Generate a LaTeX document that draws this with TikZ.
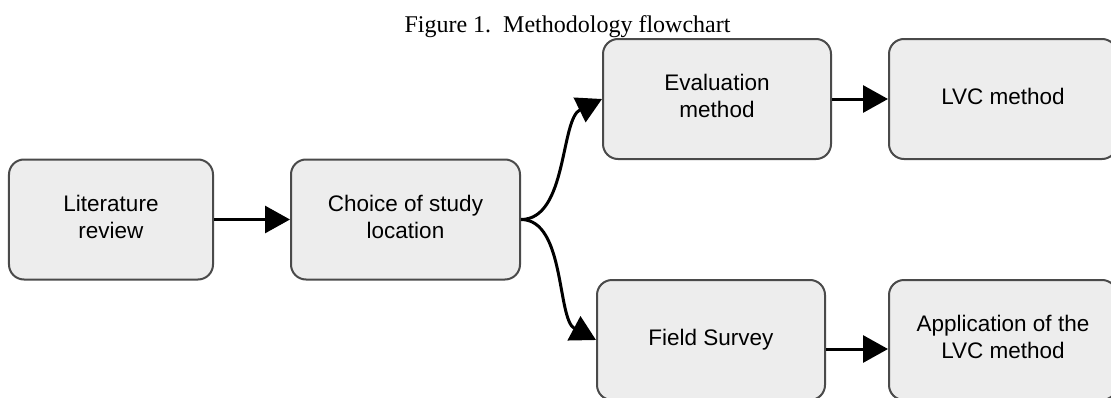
\documentclass[tikz,border=0pt]{standalone}
\usepackage{fontspec}
\setmainfont{Liberation Sans}
\newfontfamily\captionserif{Liberation Serif}
\usetikzlibrary{arrows.meta}
\usetikzlibrary{positioning}
\definecolor{boxfill}{HTML}{EDEDED}
\definecolor{boxline}{HTML}{4A4A4A}

\begin{document}
\begin{tikzpicture}[->,>={Triangle[length=25pt,width=27pt]}, line width=3pt,
    stage/.style={draw=boxline, fill=boxfill, line width=2pt,
      rounded corners=15pt, minimum width=228pt, minimum height=120pt,
      inner sep=0pt, font=\fontsize{22.5}{27}\selectfont}]
    \useasboundingbox (-111pt,-177.5pt) rectangle (1000pt,219.5pt);

    % TITLE
    \node[anchor=base, font=\captionserif\fontsize{24}{28}\selectfont]
      (TITLE) at (456.5pt,187.5pt) {Figure 1.\ \ Methodology flowchart};

    % FIRST LAYER
    \node[stage, minimum width=204pt] (LITERATURE_REVIEW)
    {
      \begin{tabular}{c}
        Literature \\ review
      \end{tabular}
    };

    % SECOND LAYER
    \node[stage,
      minimum width=229pt,
      node distance=294.5pt,
      right of=LITERATURE_REVIEW] (STUDY_LOCATION)
    {
      \begin{tabular}{c}
        Choice of study \\ location
      \end{tabular}
    };

    % THIRD LAYER
    \node[stage,
      node distance=311.5pt,
      right of=STUDY_LOCATION,
      yshift=120.5pt] (EVALUATION_METHOD)
    {
      \begin{tabular}{c}
        Evaluation \\ method
      \end{tabular}
    };

    \node[stage,
      node distance=305.5pt,
      right of=STUDY_LOCATION,
      yshift=-120.5pt] (FIELD_SURVEY)
    {
      \begin{tabular}{c}
        Field Survey
      \end{tabular}
    };

    % FOURTH LAYER
    \node[stage,
      node distance=286pt,
      right of=EVALUATION_METHOD] (LVC_METHOD)
    {
      \begin{tabular}{c}
        LVC method
      \end{tabular}
    };

    \node[stage,
      node distance=292pt,
      right of=FIELD_SURVEY] (LVC_APPLICATION)
    {
      \begin{tabular}{c}
        Application of the \\ LVC method
      \end{tabular}
    };

    % LINES
    \path
    (LITERATURE_REVIEW) edge (STUDY_LOCATION)
    (STUDY_LOCATION.east) edge[out=0, in=206, looseness=0.82] (EVALUATION_METHOD.west)
    (STUDY_LOCATION.east) edge[out=0, in=152, looseness=0.8] (FIELD_SURVEY.west)
    (EVALUATION_METHOD) edge (LVC_METHOD)
    ([yshift=-9pt]FIELD_SURVEY.east) edge ([yshift=-9pt]LVC_APPLICATION.west)
    ;
  \end{tikzpicture}
\end{document}
